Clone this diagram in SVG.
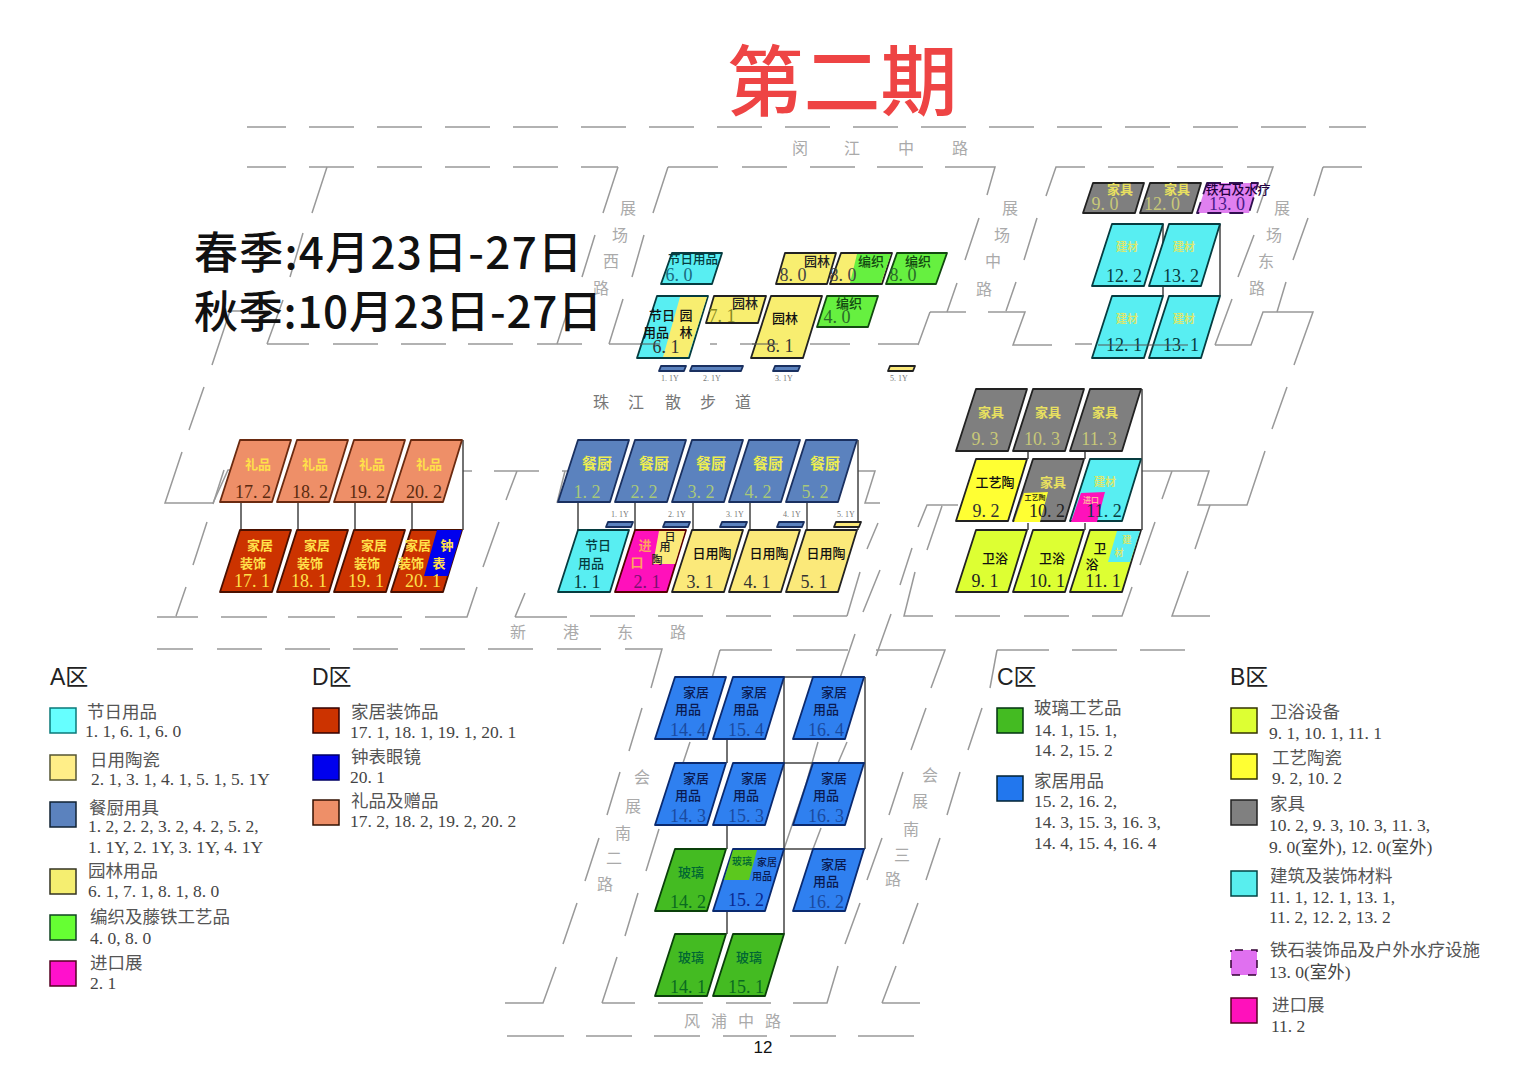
<svg xmlns="http://www.w3.org/2000/svg" width="1529" height="1080" viewBox="0 0 1529 1080">
<style>
text{font-family:"Liberation Serif","Noto Sans CJK SC",serif;text-anchor:middle;stroke:none}
.sans{font-family:"Noto Sans CJK SC","Liberation Sans",sans-serif}
.road{fill:none;stroke:#999;stroke-width:1.5}
.dash{stroke-dasharray:45 23;stroke-dashoffset:6}
.link{fill:none;stroke:#444;stroke-width:1.5}
.rn{font-size:16px;fill:#aaa}
.rd{font-size:16px;fill:#777}
.l{text-anchor:start;font-size:17.5px;fill:#444}
.lc{text-anchor:start;font-size:17.5px;fill:#555;font-family:"Noto Sans CJK SC",sans-serif}
.z{text-anchor:start;font-size:23px;fill:#222;font-family:"Liberation Sans","Noto Sans CJK SC",sans-serif}
.s{stroke-width:1.5}
.para{stroke-width:1.8;stroke-linejoin:round}
.c{font-size:13px;font-weight:700;font-family:"Noto Sans CJK SC",sans-serif}
.m{font-weight:500}
.n{font-size:18px}
.tiny{font-size:8px;fill:#777}
.gift{fill:#EE8F68;stroke:#6a2a10}
.yt{fill:#FFE04A}
.deco{fill:#CC3300;stroke:#4a1000}
.kit{fill:#5B82BE;stroke:#1a3060}
.kc{font-size:15px;fill:#EEEE50}
.cy{fill:#58EEF2;stroke:#063c40}
.ye{fill:#FBE97A;stroke:#222}
.ga{fill:#F8EE70;stroke:#222}
.gr{fill:#66F040;stroke:#124a10}
.ma{fill:#FF11BB;stroke:#500}
.gy{fill:#7F7F7F;stroke:#222}
.cr{fill:#FFFF33;stroke:#222}
.ba{fill:#DDFF33;stroke:#222}
.ho{fill:#2F80F0;stroke:#0a2a70}
.gl{fill:#44BB22;stroke:#0a400a}
.pu{fill:#E080F0;stroke:#301050;stroke-dasharray:14 8}
</style>
<defs>
<path id="t" d="M20 0H71L52 62H0Z"/>
<path id="w" d="M10 0H61L52 30H0Z"/>
<path id="b" d="M8 0H60L52 27H0Z"/>
<path id="y" d="M2 0H27L25 5H0Z"/>
</defs>
<text class="sans" x="842" y="110" font-size="77" font-weight="500" fill="#EE4444">第二期</text>
<g id="connectors">
<path class="road dash" d="M247 127H1366"/>
<path class="road dash" d="M247 167H618"/>
<path class="road" d="M618 167L603 213M327 167L312 213M303 233L290 277M283 300L267 344M230 311H270M230 311L212 365M204 387L189 430M182 452L165 503H213L228 470H240M595 235L582 277M623 299L609 344M568 310L557 344M644 235L632 277"/>
<path class="road" d="M267 344H309M333 344H378M401 344H446M468 344H513M537 344H582M609 344H650M710 344H717M740 344H785M810 344H850M878 344H918M930 312L918 345M930 312H966M988 312H1025L1013 345H1052M1075 344H1092M1215 345H1251L1263 312H1313L1294 365M1287 387L1272 429M1265 451L1247 505H1198L1209 471H1142M1172 471L1162 499M1210 505L1195 549M1188 571L1172 616H1210M1155 522L1140 565M1132 587L1122 616H1092M1069 616H1024M1000 616H955M933 616H904L915 572M900 585L912 548M918 527L927 505H958M942 506L927 550"/>
<path class="road" d="M668 167H718M742 167H787M810 167H855M877 167H923M945 167H995L987 195M668 167L653 213M979 218L965 260M957 283L947 312M1046 196L1056 167H1085M1108 167H1154M1177 167H1223M1247 167H1273L1257 213M1323 167H1362M1323 167L1314 196M1037 218L1024 260M1016 282L1006 311M1254 235L1238 277M1232 299L1215 345M1308 218L1293 260M1286 282L1277 312"/>
<path class="road" d="M224 470L213 504M463 471H472M494 471H539M517 471L506 500M562 471H570M565 471L557 503M858 471H875L865 503H880M878 523L867 549M860 572L847 616M880 570L863 612"/>
<path class="road" d="M157 617H198M221 617H267M288 617H335M357 617H402M425 617H467L477 587M176 616L186 587M193 565L207 522M483 567L499 522M515 617L525 593M515 617H567M590 616H635M658 616H703M726 616H771M793 616H847"/>
<path class="road" d="M157 649H193M217 649H262M285 649H330M353 649H398M420 649H465M488 649H533M557 649H601M625 649H662L651 688M720 650L712 678M720 650H772M796 650H848M840 678L855 634M876 656L891 614M876 650H945L931 688M997 650L990 688M997 650H1049M1072 650H1117M1140 650H1185"/>
<path class="road" d="M505 1003H543L556 967M563 944L577 903M585 881L599 838M607 815L620 772M629 751L642 708M602 1003L617 957M625 936L638 893M646 871L659 829M668 807L676 780M602 1003H635M658 1003H703M726 1003H771M793 1003H827L838 966M845 944L860 903M867 880L882 838M889 815L903 772M911 750L926 708M882 1003L896 966M882 1003H920M903 944L918 903M926 880L940 838M947 815L960 772M968 750L982 708M690 742L683 763M818 742L806 784L784 849M821 828L813 849M847 742L838 763M862 681L852 712"/>
<path class="road" d="M507 1036H564M586 1036H632M654 1036H700M723 1036H767M790 1036H836M858 1036H914"/>
<path class="link" d="M241 502V530M298 502V530M355 502V530M412 502V530M463 440V530M578 502V530M635 502V530M693 502V530M750 502V530M807 502V530M858 440V530M1028 452V459M1085 452V459M1028 523V530M1085 523V530M1142 389V530M1163 224V296M1220 224V296M727 739V763M727 825V849M727 911V934M784 677V934M865 677V849M784 677H865M784 763H865M784 849H865"/>
</g>
<g id="labels-roads">
<text class="rn" x="800" y="154">闵</text><text class="rn" x="852" y="154">江</text><text class="rn" x="906" y="154">中</text><text class="rn" x="960" y="154">路</text>
<text class="rd" x="601" y="408">珠</text><text class="rd" x="636" y="408">江</text><text class="rd" x="673" y="408">散</text><text class="rd" x="708" y="408">步</text><text class="rd" x="743" y="408">道</text>
<text class="rn" x="518" y="638">新</text><text class="rn" x="571" y="638">港</text><text class="rn" x="625" y="638">东</text><text class="rn" x="678" y="638">路</text>
<text class="rn" x="692" y="1027">风</text><text class="rn" x="719" y="1027">浦</text><text class="rn" x="746" y="1027">中</text><text class="rn" x="773" y="1027">路</text>
<text class="rn" x="628" y="214">展</text><text class="rn" x="620" y="241">场</text><text class="rn" x="611" y="267">西</text><text class="rn" x="601" y="294">路</text>
<text class="rn" x="1010" y="214">展</text><text class="rn" x="1002" y="241">场</text><text class="rn" x="993" y="267">中</text><text class="rn" x="984" y="295">路</text>
<text class="rn" x="1282" y="214">展</text><text class="rn" x="1274" y="241">场</text><text class="rn" x="1266" y="267">东</text><text class="rn" x="1257" y="294">路</text>
<text class="rn" x="642" y="783">会</text><text class="rn" x="633" y="812">展</text><text class="rn" x="623" y="839">南</text><text class="rn" x="614" y="864">二</text><text class="rn" x="605" y="890">路</text>
<text class="rn" x="930" y="781">会</text><text class="rn" x="920" y="807">展</text><text class="rn" x="911" y="835">南</text><text class="rn" x="902" y="861">三</text><text class="rn" x="893" y="885">路</text>
</g>
<g id="dates">
<text class="sans" x="194" y="269" font-size="44" font-weight="500" fill="#111" style="text-anchor:start" textLength="388">春季:4月23日-27日</text>
<text class="sans" x="194" y="328" font-size="44" font-weight="500" fill="#111" style="text-anchor:start" textLength="408">秋季:10月23日-27日</text>
</g>

<g id="n17-2" class="gift" transform="translate(220,440)"><use href="#t" class="para"/><text class="c yt" x="38" y="29">礼品</text><text class="n" x="33" y="58" fill="#5a2a10">17. 2</text></g>
<g id="n18-2" class="gift" transform="translate(277,440)"><use href="#t" class="para"/><text class="c yt" x="38" y="29">礼品</text><text class="n" x="33" y="58" fill="#5a2a10">18. 2</text></g>
<g id="n19-2" class="gift" transform="translate(334,440)"><use href="#t" class="para"/><text class="c yt" x="38" y="29">礼品</text><text class="n" x="33" y="58" fill="#5a2a10">19. 2</text></g>
<g id="n20-2" class="gift" transform="translate(391,440)"><use href="#t" class="para"/><text class="c yt" x="38" y="29">礼品</text><text class="n" x="33" y="58" fill="#5a2a10">20. 2</text></g>
<g id="n17-1" class="deco" transform="translate(220,530)"><use href="#t" class="para"/><text class="c yt" x="40" y="20">家居</text><text class="c yt" x="33" y="38">装饰</text><text class="n yt" x="32" y="57">17. 1</text></g>
<g id="n18-1" class="deco" transform="translate(277,530)"><use href="#t" class="para"/><text class="c yt" x="40" y="20">家居</text><text class="c yt" x="33" y="38">装饰</text><text class="n yt" x="32" y="57">18. 1</text></g>
<g id="n19-1" class="deco" transform="translate(334,530)"><use href="#t" class="para"/><text class="c yt" x="40" y="20">家居</text><text class="c yt" x="33" y="38">装饰</text><text class="n yt" x="32" y="57">19. 1</text></g>
<g id="n20-1" class="deco" transform="translate(391,530)"><use href="#t" class="para"/><path d="M46 0H71L57 46H33Z" fill="#0000EE" stroke="none"/><text class="c yt" x="27" y="20">家居</text><text class="c yt" x="20" y="38">装饰</text><text class="c yt" x="56" y="20">钟</text><text class="c yt" x="48" y="38">表</text><text class="n yt" x="32" y="57">20. 1</text></g>

<g id="n1-2" class="kit" transform="translate(558,440)"><use href="#t" class="para"/><text class="c kc" x="39" y="29">餐厨</text><text class="n" fill="#A8C87A" x="29" y="58">1. 2</text></g>
<g id="n2-2" class="kit" transform="translate(615,440)"><use href="#t" class="para"/><text class="c kc" x="39" y="29">餐厨</text><text class="n" fill="#A8C87A" x="29" y="58">2. 2</text></g>
<g id="n3-2" class="kit" transform="translate(672,440)"><use href="#t" class="para"/><text class="c kc" x="39" y="29">餐厨</text><text class="n" fill="#A8C87A" x="29" y="58">3. 2</text></g>
<g id="n4-2" class="kit" transform="translate(729,440)"><use href="#t" class="para"/><text class="c kc" x="39" y="29">餐厨</text><text class="n" fill="#A8C87A" x="29" y="58">4. 2</text></g>
<g id="n5-2" class="kit" transform="translate(786,440)"><use href="#t" class="para"/><text class="c kc" x="39" y="29">餐厨</text><text class="n" fill="#A8C87A" x="29" y="58">5. 2</text></g>
<g id="n1-1" class="cy" transform="translate(558,530)"><use href="#t" class="para"/><text class="c m" fill="#063c40" x="40" y="20">节日</text><text class="c m" fill="#063c40" x="33" y="38">用品</text><text class="n" fill="#063c40" x="29" y="58">1. 1</text></g>
<g id="n2-1" class="ma" transform="translate(615,530)"><use href="#t" class="para"/><path d="M44 1H70L60 34H38Z" fill="#FBE97A" stroke="none"/><text class="c" fill="#FFA060" x="30" y="20">进</text><text class="c" fill="#FFA060" x="22" y="37">口</text><text class="c m" font-size="11" style="font-size:11px" fill="#222" x="55" y="11">日</text><text class="c m" style="font-size:11px" fill="#222" x="50" y="21">用</text><text class="c m" style="font-size:11px" fill="#222" x="42" y="34">陶</text><text class="n" fill="#7a1070" x="32" y="58">2. 1</text></g>
<g id="n3-1" class="ye" transform="translate(672,530)"><use href="#t" class="para"/><text class="c m" fill="#111" x="40" y="28">日用陶</text><text class="n" fill="#333" x="28" y="58">3. 1</text></g>
<g id="n4-1" class="ye" transform="translate(729,530)"><use href="#t" class="para"/><text class="c m" fill="#111" x="40" y="28">日用陶</text><text class="n" fill="#333" x="28" y="58">4. 1</text></g>
<g id="n5-1" class="ye" transform="translate(786,530)"><use href="#t" class="para"/><text class="c m" fill="#111" x="40" y="28">日用陶</text><text class="n" fill="#333" x="28" y="58">5. 1</text></g>

<g id="b1" class="kit" transform="translate(606,522)"><use href="#y" class="para"/></g>
<g id="b2" class="kit" transform="translate(663,522)"><use href="#y" class="para"/></g>
<g id="b3" class="kit" transform="translate(720,522)"><use href="#y" class="para"/></g>
<g id="b4" class="kit" transform="translate(777,522)"><use href="#y" class="para"/></g>
<g id="b5" class="ye" transform="translate(834,522)"><use href="#y" class="para"/></g>
<text class="tiny" x="620" y="517">1. 1Y</text><text class="tiny" x="677" y="517">2. 1Y</text><text class="tiny" x="735" y="517">3. 1Y</text><text class="tiny" x="792" y="517">4. 1Y</text><text class="tiny" x="846" y="517">5. 1Y</text>

<g id="n9-3" class="gy" transform="translate(956,389)"><use href="#t" class="para"/><text class="c" fill="#E8E060" x="35" y="28">家具</text><text class="n" fill="#C8C878" x="29" y="56">9. 3</text></g>
<g id="n10-3" class="gy" transform="translate(1013,389)"><use href="#t" class="para"/><text class="c" fill="#E8E060" x="35" y="28">家具</text><text class="n" fill="#C8C878" x="29" y="56">10. 3</text></g>
<g id="n11-3" class="gy" transform="translate(1070,389)"><use href="#t" class="para"/><text class="c" fill="#E8E060" x="35" y="28">家具</text><text class="n" fill="#C8C878" x="29" y="56">11. 3</text></g>
<g id="n9-2" class="cr" transform="translate(956,459)"><use href="#t" class="para"/><text class="c m" fill="#111" x="39" y="28">工艺陶</text><text class="n" fill="#333" x="30" y="58">9. 2</text></g>
<g id="n10-2" class="gy" transform="translate(1013,459)"><use href="#t" class="para"/><path d="M1 63L11 34L35 33L27 63Z" fill="#FFFF33" stroke="none"/><text class="c" fill="#E8E060" x="40" y="28">家具</text><text class="c m" style="font-size:7px" fill="#111" x="22" y="41">工艺陶</text><text class="n" fill="#222" x="34" y="58">10. 2</text></g>
<g id="n11-2" class="cy" transform="translate(1070,459)"><use href="#t" class="para"/><path d="M1 63L11 34L35 33L27 63Z" fill="#FF11BB" stroke="none"/><text class="c" style="font-size:11px" fill="#D8E870" x="35" y="27">建材</text><text class="c" style="font-size:8px" fill="#FFB0A0" x="21" y="44">进口</text><text class="n" fill="#063c40" x="34" y="58">11. 2</text></g>
<g id="n9-1" class="ba" transform="translate(956,530)"><use href="#t" class="para"/><text class="c m" fill="#111" x="39" y="33">卫浴</text><text class="n" fill="#222" x="29" y="57">9. 1</text></g>
<g id="n10-1" class="ba" transform="translate(1013,530)"><use href="#t" class="para"/><text class="c m" fill="#111" x="39" y="33">卫浴</text><text class="n" fill="#222" x="34" y="57">10. 1</text></g>
<g id="n11-1" class="ba" transform="translate(1070,530)"><use href="#t" class="para"/><path d="M47 1H70L60 32H38Z" fill="#58EEF2" stroke="none"/><text class="c m" fill="#111" x="30" y="23">卫</text><text class="c m" fill="#111" x="22" y="39">浴</text><text class="c" style="font-size:9px" fill="#D8E870" x="57" y="13">建</text><text class="c" style="font-size:9px" fill="#D8E870" x="49" y="26">材</text><text class="n" fill="#222" x="33" y="57">11. 1</text></g>

<g id="n9-0" class="gy" transform="translate(1083,183)"><use href="#w" class="para"/><text class="c" fill="#E8E060" x="37" y="11">家具</text><text class="n" fill="#C8C878" x="22" y="27">9. 0</text></g>
<g id="n12-0" class="gy" transform="translate(1140,183)"><use href="#w" class="para"/><text class="c" fill="#E8E060" x="37" y="11">家具</text><text class="n" fill="#C8C878" x="22" y="27">12. 0</text></g>
<g id="n13-0" class="pu" transform="translate(1197,183)"><use href="#w" class="para"/><text class="c m" fill="#220040" x="41" y="11">铁石及水疗</text><text class="n" fill="#4a1a8a" x="30" y="27">13. 0</text></g>
<g id="n12-2" class="cy" transform="translate(1092,224)"><use href="#t" class="para"/><text class="c" style="font-size:11px" fill="#D8E870" x="35" y="27">建材</text><text class="n" fill="#063c40" x="32" y="58">12. 2</text></g>
<g id="n13-2" class="cy" transform="translate(1149,224)"><use href="#t" class="para"/><text class="c" style="font-size:11px" fill="#D8E870" x="35" y="27">建材</text><text class="n" fill="#063c40" x="32" y="58">13. 2</text></g>
<g id="n12-1" class="cy" transform="translate(1092,296)"><use href="#t" class="para"/><text class="c" style="font-size:11px" fill="#D8E870" x="35" y="27">建材</text><text class="n" fill="#063c40" x="32" y="55">12. 1</text></g>
<g id="n13-1" class="cy" transform="translate(1149,296)"><use href="#t" class="para"/><text class="c" style="font-size:11px" fill="#D8E870" x="35" y="27">建材</text><text class="n" fill="#063c40" x="32" y="55">13. 1</text></g>

<g id="n6-0" class="cy" transform="translate(661,253)"><path class="para" d="M11 0H61L51 31H0Z"/><text class="c m" style="font-size:12.5px" fill="#063c40" x="32" y="11">节日用品</text><text class="n" fill="#1a6a80" x="18" y="28">6. 0</text></g>
<g id="n8-0a" class="ga" transform="translate(776,253)"><path class="para" d="M9 0H60L51 31H0Z"/><text class="c m" fill="#222" x="41" y="13">园林</text><text class="n" fill="#444" x="17" y="28">8. 0</text></g>
<g id="n8-0b" class="ga" transform="translate(830,253)"><path class="para" d="M11 0H62L52 31H0Z"/><path d="M27 1H61L51 30H20Z" fill="#66F040" stroke="none"/><text class="c m" fill="#124a10" x="41" y="13">编织</text><text class="n" fill="#444" x="13" y="28">8. 0</text></g>
<g id="n8-0c" class="gr" transform="translate(886,253)"><path class="para" d="M11 0H61L50 31H0Z"/><text class="c m" fill="#124a10" x="32" y="13">编织</text><text class="n" fill="#2a6a2a" x="17" y="28">8. 0</text></g>
<g id="n4-0" class="gr" transform="translate(817,296)"><path class="para" d="M10 0H61L51 31H0Z"/><text class="c m" fill="#124a10" x="32" y="12">编织</text><text class="n" fill="#2a6a2a" x="20" y="27">4. 0</text></g>
<g id="n6-1" class="cy" transform="translate(637,296)"><use href="#t" class="para"/><path d="M43 1H70L51 61H26Z" fill="#F8EE70" stroke="none"/><text class="c m" fill="#111" x="25" y="24">节日</text><text class="c m" fill="#111" x="19" y="41">用品</text><text class="c m" fill="#111" x="49" y="24">园</text><text class="c m" fill="#111" x="49" y="41">林</text><text class="n" fill="#333" x="29" y="57">6. 1</text></g>
<g id="n7-1" class="ga" transform="translate(706,296)"><use href="#b" class="para"/><text class="c m" fill="#222" x="39" y="12">园林</text><text class="n" fill="#8a8a20" x="16" y="26">7. 1</text></g>
<g id="n8-1" class="ga" transform="translate(751,296)"><use href="#t" class="para"/><text class="c m" fill="#111" x="34" y="27">园林</text><text class="n" fill="#333" x="29" y="56">8. 1</text></g>
<g id="s1" class="kit" transform="translate(659,366)"><use href="#y" class="para"/></g>
<g id="s2" class="kit" transform="translate(690,366)"><path class="para" d="M2 0H53L51 5H0Z"/></g>
<g id="s3" class="kit" transform="translate(773,366)"><use href="#y" class="para"/></g>
<g id="s5" class="ye" transform="translate(888,366)"><use href="#y" class="para"/></g>
<text class="tiny" x="670" y="381">1. 1Y</text><text class="tiny" x="712" y="381">2. 1Y</text><text class="tiny" x="784" y="381">3. 1Y</text><text class="tiny" x="899" y="381">5. 1Y</text>
<path class="road" style="stroke:#555;stroke-width:1" d="M1098 345H1188M640 344H660M752 344H778"/>

<g id="n14-4" class="ho" transform="translate(655,677)"><use href="#t" class="para"/><text class="c m" fill="#0a1a50" x="41" y="20">家居</text><text class="c m" fill="#0a1a50" x="33" y="37">用品</text><text class="n" fill="#1a4aa0" x="33" y="59">14. 4</text></g>
<g id="n15-4" class="ho" transform="translate(713,677)"><use href="#t" class="para"/><text class="c m" fill="#0a1a50" x="41" y="20">家居</text><text class="c m" fill="#0a1a50" x="33" y="37">用品</text><text class="n" fill="#1a4aa0" x="33" y="59">15. 4</text></g>
<g id="n16-4" class="ho" transform="translate(793,677)"><use href="#t" class="para"/><text class="c m" fill="#0a1a50" x="41" y="20">家居</text><text class="c m" fill="#0a1a50" x="33" y="37">用品</text><text class="n" fill="#1a4aa0" x="33" y="59">16. 4</text></g>
<g id="n14-3" class="ho" transform="translate(655,763)"><use href="#t" class="para"/><text class="c m" fill="#0a1a50" x="41" y="20">家居</text><text class="c m" fill="#0a1a50" x="33" y="37">用品</text><text class="n" fill="#1a4aa0" x="33" y="59">14. 3</text></g>
<g id="n15-3" class="ho" transform="translate(713,763)"><use href="#t" class="para"/><text class="c m" fill="#0a1a50" x="41" y="20">家居</text><text class="c m" fill="#0a1a50" x="33" y="37">用品</text><text class="n" fill="#1a4aa0" x="33" y="59">15. 3</text></g>
<g id="n16-3" class="ho" transform="translate(793,763)"><use href="#t" class="para"/><text class="c m" fill="#0a1a50" x="41" y="20">家居</text><text class="c m" fill="#0a1a50" x="33" y="37">用品</text><text class="n" fill="#1a4aa0" x="33" y="59">16. 3</text></g>
<g id="n14-2" class="gl" transform="translate(655,849)"><use href="#t" class="para"/><text class="c m" fill="#063" x="36" y="28">玻璃</text><text class="n" fill="#0a6a20" x="33" y="59">14. 2</text></g>
<g id="n15-2" class="ho" transform="translate(713,849)"><use href="#t" class="para"/><path d="M20 1H44L36 31H11Z" fill="#5CC81E" stroke="none"/><text class="c m" style="font-size:10px" fill="#063" x="29" y="16">玻璃</text><text class="c m" style="font-size:10px" fill="#0a1a50" x="54" y="17">家居</text><text class="c m" style="font-size:10px" fill="#0a1a50" x="49" y="31">用品</text><text class="n" fill="#0a2a90" x="33" y="57">15. 2</text></g>
<g id="n16-2" class="ho" transform="translate(793,849)"><use href="#t" class="para"/><text class="c m" fill="#0a1a50" x="41" y="20">家居</text><text class="c m" fill="#0a1a50" x="33" y="37">用品</text><text class="n" fill="#1a4aa0" x="33" y="59">16. 2</text></g>
<g id="n14-1" class="gl" transform="translate(655,934)"><use href="#t" class="para"/><text class="c m" fill="#063" x="36" y="28">玻璃</text><text class="n" fill="#0a6a20" x="33" y="59">14. 1</text></g>
<g id="n15-1" class="gl" transform="translate(713,934)"><use href="#t" class="para"/><text class="c m" fill="#063" x="36" y="28">玻璃</text><text class="n" fill="#0a6a20" x="33" y="59">15. 1</text></g>
<text x="763" y="1053" font-size="17" fill="#111" style="font-family:'Liberation Sans',sans-serif">12</text>

<g id="legend-a">
<text class="z" x="50" y="685">A区</text>
<rect class="s" x="50" y="708" width="26" height="25" fill="#66FFFF" stroke="#0a7a7a"/><text class="lc" x="87" y="718">节日用品</text><text class="l" x="85" y="737">1. 1, 6. 1, 6. 0</text>
<rect class="s" x="50" y="755" width="26" height="25" fill="#FFEE88" stroke="#553"/><text class="lc" x="90" y="766">日用陶瓷</text><text class="l" x="91" y="785">2. 1, 3. 1, 4. 1, 5. 1, 5. 1Y</text>
<rect class="s" x="50" y="802" width="26" height="25" fill="#5B82BE" stroke="#123"/><text class="lc" x="89" y="814">餐厨用具</text><text class="l" x="88" y="832">1. 2, 2. 2, 3. 2, 4. 2, 5. 2,</text><text class="l" x="88" y="853">1. 1Y, 2. 1Y, 3. 1Y, 4. 1Y</text>
<rect class="s" x="50" y="869" width="26" height="25" fill="#F5EE70" stroke="#332"/><text class="lc" x="88" y="877">园林用品</text><text class="l" x="88" y="897">6. 1, 7. 1, 8. 1, 8. 0</text>
<rect class="s" x="50" y="915" width="26" height="25" fill="#66FF33" stroke="#142"/><text class="lc" x="90" y="923">编织及藤铁工艺品</text><text class="l" x="90" y="944">4. 0, 8. 0</text>
<rect class="s" x="50" y="961" width="26" height="25" fill="#FF11CC" stroke="#502"/><text class="lc" x="90" y="969">进口展</text><text class="l" x="90" y="989">2. 1</text>
</g>
<g id="legend-d">
<text class="z" x="312" y="685">D区</text>
<rect class="s" x="313" y="708" width="26" height="25" fill="#CC3300" stroke="#300"/><text class="lc" x="351" y="718">家居装饰品</text><text class="l" x="350" y="738">17. 1, 18. 1, 19. 1, 20. 1</text>
<rect class="s" x="313" y="755" width="26" height="25" fill="#0000EE" stroke="#006"/><text class="lc" x="351" y="763">钟表眼镜</text><text class="l" x="350" y="783">20. 1</text>
<rect class="s" x="313" y="800" width="26" height="25" fill="#EE8F68" stroke="#310"/><text class="lc" x="351" y="807">礼品及赠品</text><text class="l" x="350" y="827">17. 2, 18. 2, 19. 2, 20. 2</text>
</g>
<g id="legend-c">
<text class="z" x="997" y="685">C区</text>
<rect class="s" x="997" y="708" width="26" height="25" fill="#44BB22" stroke="#031"/><text class="lc" x="1034" y="714">玻璃工艺品</text><text class="l" x="1034" y="736">14. 1, 15. 1,</text><text class="l" x="1034" y="756">14. 2, 15. 2</text>
<rect class="s" x="997" y="776" width="26" height="25" fill="#2277EE" stroke="#023"/><text class="lc" x="1034" y="787">家居用品</text><text class="l" x="1034" y="807">15. 2, 16. 2,</text><text class="l" x="1034" y="828">14. 3, 15. 3, 16. 3,</text><text class="l" x="1034" y="849">14. 4, 15. 4, 16. 4</text>
</g>
<g id="legend-b">
<text class="z" x="1230" y="685">B区</text>
<rect class="s" x="1231" y="708" width="26" height="25" fill="#DDFF33" stroke="#330"/><text class="lc" x="1270" y="718">卫浴设备</text><text class="l" x="1269" y="739">9. 1, 10. 1, 11. 1</text>
<rect class="s" x="1231" y="754" width="26" height="25" fill="#FFFF33" stroke="#330"/><text class="lc" x="1272" y="764">工艺陶瓷</text><text class="l" x="1272" y="784">9. 2, 10. 2</text>
<rect class="s" x="1231" y="800" width="26" height="25" fill="#808080" stroke="#222"/><text class="lc" x="1270" y="810">家具</text><text class="l" x="1269" y="831">10. 2, 9. 3, 10. 3, 11. 3,</text><text class="l" x="1269" y="853">9. 0(室外), 12. 0(室外)</text>
<rect class="s" x="1231" y="871" width="26" height="25" fill="#58EEEE" stroke="#044"/><text class="lc" x="1270" y="882">建筑及装饰材料</text><text class="l" x="1269" y="903">11. 1, 12. 1, 13. 1,</text><text class="l" x="1269" y="923">11. 2, 12. 2, 13. 2</text>
<rect x="1231" y="950" width="26" height="25" fill="#E070F0" stroke="#303" stroke-width="1.5" stroke-dasharray="8 8" stroke-dashoffset="-4"/><text class="lc" x="1270" y="956">铁石装饰品及户外水疗设施</text><text class="l" x="1269" y="978">13. 0(室外)</text>
<rect class="s" x="1231" y="998" width="26" height="25" fill="#FF11BB" stroke="#502"/><text class="lc" x="1272" y="1011">进口展</text><text class="l" x="1271" y="1032">11. 2</text>
</g>
</svg>
